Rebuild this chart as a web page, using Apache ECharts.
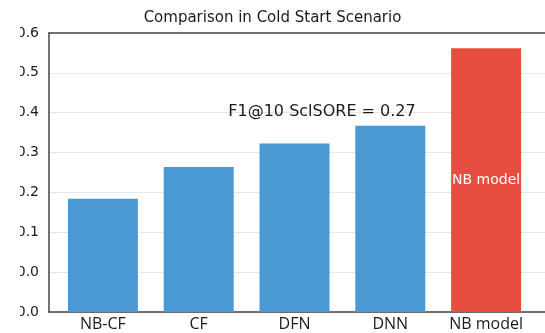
<!DOCTYPE html>
<html>
<head>
<meta charset="utf-8">
<script src="https://cdn.jsdelivr.net/npm/echarts@6/dist/echarts.min.js"></script>
<style>html,body{margin:0;padding:0;background:#fff}#c{width:545px;height:333px}</style>
</head>
<body>
<div id="c"></div>
<script>
const categories = ['NB-CF', 'CF', 'DFN', 'DNN', 'NB model'];
// bar heights measured from the bottom of the plot, in axis units
const values = [0.284, 0.364, 0.423, 0.467, 0.662];
const tickLabels = ['0.0', '0.0', '0.1', '0.2', '0.3', '0.4', '0.5', '0.6'];
const titleText = 'Comparison in Cold Start Scenario';
const annotationText = 'F1@10 SclSORE = 0.27';
const highlightLabel = 'NB model';

const blue = '#4a99d3', red = '#e84e40', axisCol = '#444';
const chart = echarts.init(document.getElementById('c'), null, {renderer: 'canvas'});
chart.setOption({
  animation: false,
  backgroundColor: '#fff',
  title: {
    text: titleText, left: 'center', top: 6,
    textStyle: {fontFamily: 'DejaVu Sans', fontSize: 15, fontWeight: 'normal', color: '#1a1a1a'}
  },
  grid: [
    {left: 49, top: 33, right: 0, bottom: 21},
    {left: 55, top: 33, right: 11, bottom: 21}
  ],
  xAxis: [
    {gridIndex: 0, type: 'category', data: categories, position: 'bottom',
     axisLine: {show: true, lineStyle: {color: axisCol, width: 1.5}},
     axisTick: {show: false}, axisLabel: {show: false}, splitLine: {show: false}},
    {gridIndex: 0, type: 'category', data: categories, position: 'top',
     axisLine: {show: true, lineStyle: {color: axisCol, width: 1.5}},
     axisTick: {show: false}, axisLabel: {show: false}, splitLine: {show: false}},
    {gridIndex: 1, type: 'category', data: categories, position: 'bottom',
     axisLine: {show: false}, axisTick: {show: false},
     axisLabel: {interval: 0, hideOverlap: false, margin: 4, fontFamily: 'Open Sans', fontSize: 16, color: '#1a1a1a'}}
  ],
  yAxis: [
    {gridIndex: 0, type: 'value', min: 0, max: 0.7, interval: 0.1,
     axisLine: {show: true, lineStyle: {color: axisCol, width: 1.5}},
     axisTick: {show: false},
     axisLabel: {margin: 10, fontFamily: 'DejaVu Sans', fontSize: 14, color: '#1a1a1a',
       formatter: v => tickLabels[Math.round(v * 10)]},
     splitLine: {show: true, lineStyle: {color: '#e6e6e6', width: 1}}},
    {gridIndex: 1, type: 'value', min: 0, max: 0.7, interval: 0.1, show: false}
  ],
  series: [{
    type: 'bar', xAxisIndex: 2, yAxisIndex: 1, barWidth: 70,
    data: values.map((v, i) => {
      const isHi = categories[i] === highlightLabel;
      return {
        value: v,
        itemStyle: {color: isHi ? red : blue},
        label: isHi ? {show: true, position: 'inside', formatter: highlightLabel,
          fontFamily: 'DejaVu Sans', fontSize: 14, color: '#fff'} : {show: false}
      };
    })
  }],
  graphic: [
    {type: 'rect', left: 0, top: 0, z: 100, shape: {width: 20, height: 333}, style: {fill: '#fff'}},
    {type: 'text', x: 322, y: 112, z: 100,
     style: {text: annotationText, fontFamily: 'DejaVu Sans', fontSize: 16, fill: '#1a1a1a',
       align: 'center', verticalAlign: 'middle'}}
  ]
});
</script>
</body>
</html>
